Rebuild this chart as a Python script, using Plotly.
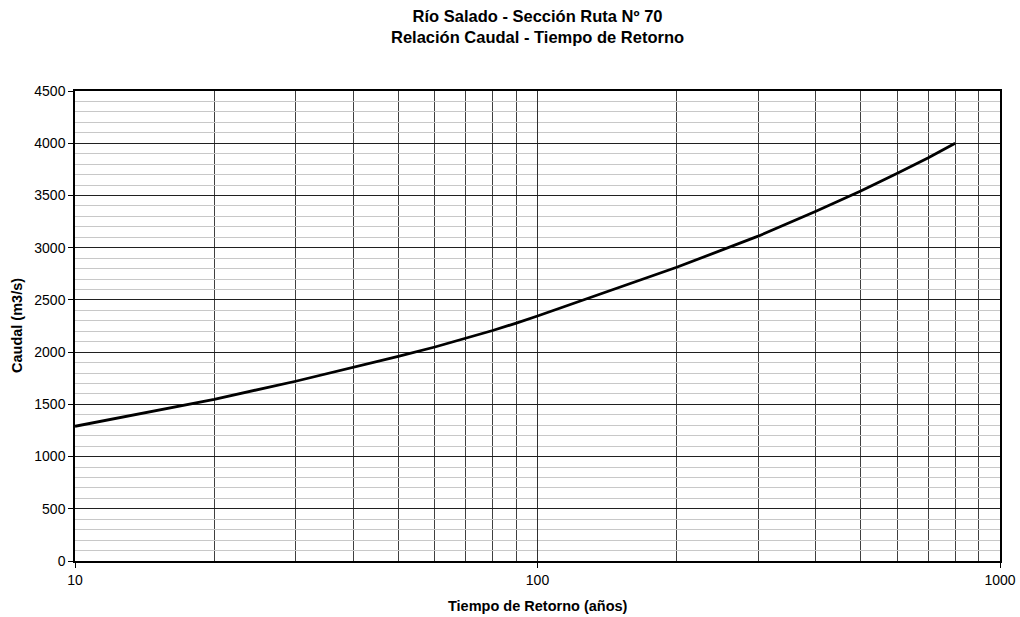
import plotly.graph_objects as go

# Return period (years) and discharge (m3/s)
periodo = [10, 20, 30, 40, 50, 60, 70, 80, 90, 100, 200, 300, 400, 500, 600, 700, 800]
caudal = [1290, 1548, 1721, 1852, 1960, 2049, 2130, 2207, 2278, 2346, 2812, 3110, 3349, 3542, 3712, 3860, 4000]

x_major = [10, 100, 1000]
x_minor = [20, 30, 40, 50, 60, 70, 80, 90, 200, 300, 400, 500, 600, 700, 800, 900]

titulo_1 = "Río Salado - Sección Ruta Nº 70"
titulo_2 = "Relación Caudal - Tiempo de Retorno"
titulo_x = "Tiempo de Retorno (años)"
titulo_y = "Caudal (m3/s)"

font_family = "Liberation Sans, Arial, sans-serif"

fig = go.Figure()
fig.add_trace(go.Scatter(x=periodo, y=caudal, mode="lines",
                         line=dict(color="black", width=2.8),
                         showlegend=False, hoverinfo="x+y"))

L, R, T, B = 75, 20, 91, 56
W, H = 1020, 617
pw, ph = W - L - R, H - T - B

def py(px_from_top):
    return 1 + (T - px_from_top) / ph

def px(px_from_left):
    return (px_from_left - L) / pw

fig.update_layout(
    width=W, height=H,
    paper_bgcolor="white", plot_bgcolor="white",
    margin=dict(l=L, r=R, t=T, b=B, autoexpand=False),
    font=dict(family=font_family, size=14, color="black"),
    xaxis=dict(type="log", range=[1, 3], automargin=False,
               tickvals=x_major, ticktext=[str(v) for v in x_major],
               ticks="outside", ticklen=5, tickcolor="black",
               tickfont=dict(size=14),
               showgrid=True, gridcolor="#303030", gridwidth=1,
               minor=dict(tickvals=x_minor, showgrid=True, gridcolor="#404040", gridwidth=1, ticks=""),
               showline=True, linecolor="black", linewidth=1.5, mirror=True,
               zeroline=False),
    yaxis=dict(range=[0, 4500], dtick=500, tick0=0, automargin=False,
               ticks="outside", ticklen=5, tickcolor="black",
               tickfont=dict(size=14),
               showgrid=True, gridcolor="#202020", gridwidth=1,
               minor=dict(dtick=100, showgrid=True, gridcolor="#c8c8c8", gridwidth=1, ticks=""),
               showline=True, linecolor="black", linewidth=1.5, mirror=True,
               zeroline=False),
    annotations=[
        dict(text="<b>%s<br>%s</b>" % (titulo_1, titulo_2), xref="paper", yref="paper",
             x=0.5, y=py(26.5), xanchor="center", yanchor="middle", showarrow=False,
             font=dict(size=16.5)),
        dict(text="<b>%s</b>" % titulo_x, xref="paper", yref="paper", x=0.5, y=py(606),
             xanchor="center", yanchor="middle", showarrow=False, font=dict(size=14.5)),
        dict(text="<b>%s</b>" % titulo_y, xref="paper", yref="paper", x=px(17), y=0.5,
             xanchor="center", yanchor="middle", textangle=-90, showarrow=False, font=dict(size=14.5)),
    ],
)

fig.write_html("out.html", config={"displayModeBar": False},
               post_script="document.body.style.margin='0';")
